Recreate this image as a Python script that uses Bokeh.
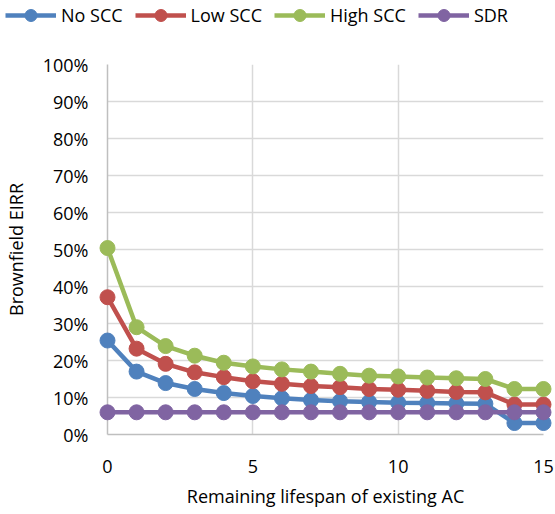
from bokeh.plotting import figure
from bokeh.models import (Range1d, FixedTicker, NumeralTickFormatter, Legend, LegendItem,
                          ColumnDataSource)
from bokeh.embed import file_html
from bokeh.resources import INLINE

years = list(range(16))
no_scc = [0.254, 0.170, 0.139, 0.123, 0.112, 0.104, 0.098, 0.093, 0.090, 0.088,
          0.086, 0.085, 0.084, 0.083, 0.031, 0.031]
low_scc = [0.371, 0.232, 0.191, 0.168, 0.155, 0.144, 0.137, 0.131, 0.128, 0.123,
           0.121, 0.118, 0.115, 0.114, 0.081, 0.081]
high_scc = [0.504, 0.290, 0.239, 0.213, 0.194, 0.184, 0.176, 0.170, 0.164, 0.159,
            0.157, 0.154, 0.152, 0.150, 0.123, 0.123]
sdr = [0.060] * 16

series_names = ["No SCC", "Low SCC", "High SCC", "SDR"]
series_values = [no_scc, low_scc, high_scc, sdr]
series_colors = ["#4F81BD", "#C0504D", "#9BBB59", "#8064A2"]

x_ticks = [0, 5, 10, 15]
y_ticks = [i / 10 for i in range(11)]

FONT = "Open Sans"
LEG_H = 32

# ---- legend strip (separate root, so it is not frame-aligned) ----
leg = figure(width=555, height=LEG_H, output_backend="svg", toolbar_location=None,
             x_range=Range1d(0, 1), y_range=Range1d(0, 1), x_axis_type=None,
             y_axis_type=None, min_border=0)
leg.outline_line_color = None
leg.xgrid.visible = False
leg.ygrid.visible = False

# ---- main chart ----
p = figure(width=555, height=514 - LEG_H, output_backend="svg", toolbar_location=None,
           x_range=Range1d(0, 15), y_range=Range1d(0, 1),
           min_border_left=107, min_border_right=12, min_border_top=64 - LEG_H,
           min_border_bottom=80)
p.outline_line_color = None
p.background_fill_color = "white"
p.border_fill_color = "white"

for ax in (p.xaxis[0], p.yaxis[0]):
    ax.axis_line_color = "#BFBFBF"
    ax.axis_line_width = 1.5
    ax.major_tick_line_color = None
    ax.minor_tick_line_color = None
    ax.major_tick_in = 0
    ax.major_tick_out = 0
    ax.minor_tick_out = 0
    ax.major_label_text_font = FONT
    ax.major_label_text_font_size = "18px"
    ax.major_label_text_color = "#000000"
    ax.axis_label_text_font = FONT
    ax.axis_label_text_font_size = "18px"
    ax.axis_label_text_font_style = "normal"
    ax.axis_label_text_color = "#000000"

p.xaxis.ticker = FixedTicker(ticks=x_ticks)
p.yaxis.ticker = FixedTicker(ticks=y_ticks)
p.yaxis.formatter = NumeralTickFormatter(format="0%")
p.xaxis.axis_label = "Remaining lifespan of existing AC"
p.yaxis.axis_label = "Brownfield EIRR"
p.yaxis.major_label_standoff = 19
p.yaxis.axis_label_standoff = 12
p.xaxis.major_label_standoff = 25
p.xaxis.axis_label_standoff = 8

p.xgrid.grid_line_color = "#D9D9D9"
p.ygrid.grid_line_color = "#D9D9D9"
p.xgrid.grid_line_width = 1.5
p.ygrid.grid_line_width = 1.5

items = []
for name, vals, col in zip(series_names, series_values, series_colors):
    src = ColumnDataSource(dict(x=years, y=vals))
    p.line("x", "y", source=src, line_color=col, line_width=4.5, level="overlay")
    p.scatter("x", "y", source=src, marker="circle", size=15, fill_color=col,
              line_color=col, level="overlay")
    # legend swatches in the strip; their points lie outside the strip's range
    off = ColumnDataSource(dict(x=[-5.0, -4.0], y=[-5.0, -4.0]))
    lr = leg.line("x", "y", source=off, line_color=col, line_width=4.5)
    cr = leg.scatter("x", "y", source=off, marker="circle", fill_color=col,
                     line_color=col)
    items.append(LegendItem(label=name, renderers=[lr, cr]))

legend = Legend(items=items, orientation="horizontal", location=(5, 2),
                glyph_width=51, glyph_height=30, label_height=30, label_standoff=5,
                spacing=12, padding=0, margin=0, border_line_color=None,
                background_fill_alpha=0, label_text_font=FONT,
                label_text_font_size="18px", label_text_color="#000000")
leg.add_layout(legend, "center")

open("out.html", "w").write(file_html([leg, p], INLINE))
